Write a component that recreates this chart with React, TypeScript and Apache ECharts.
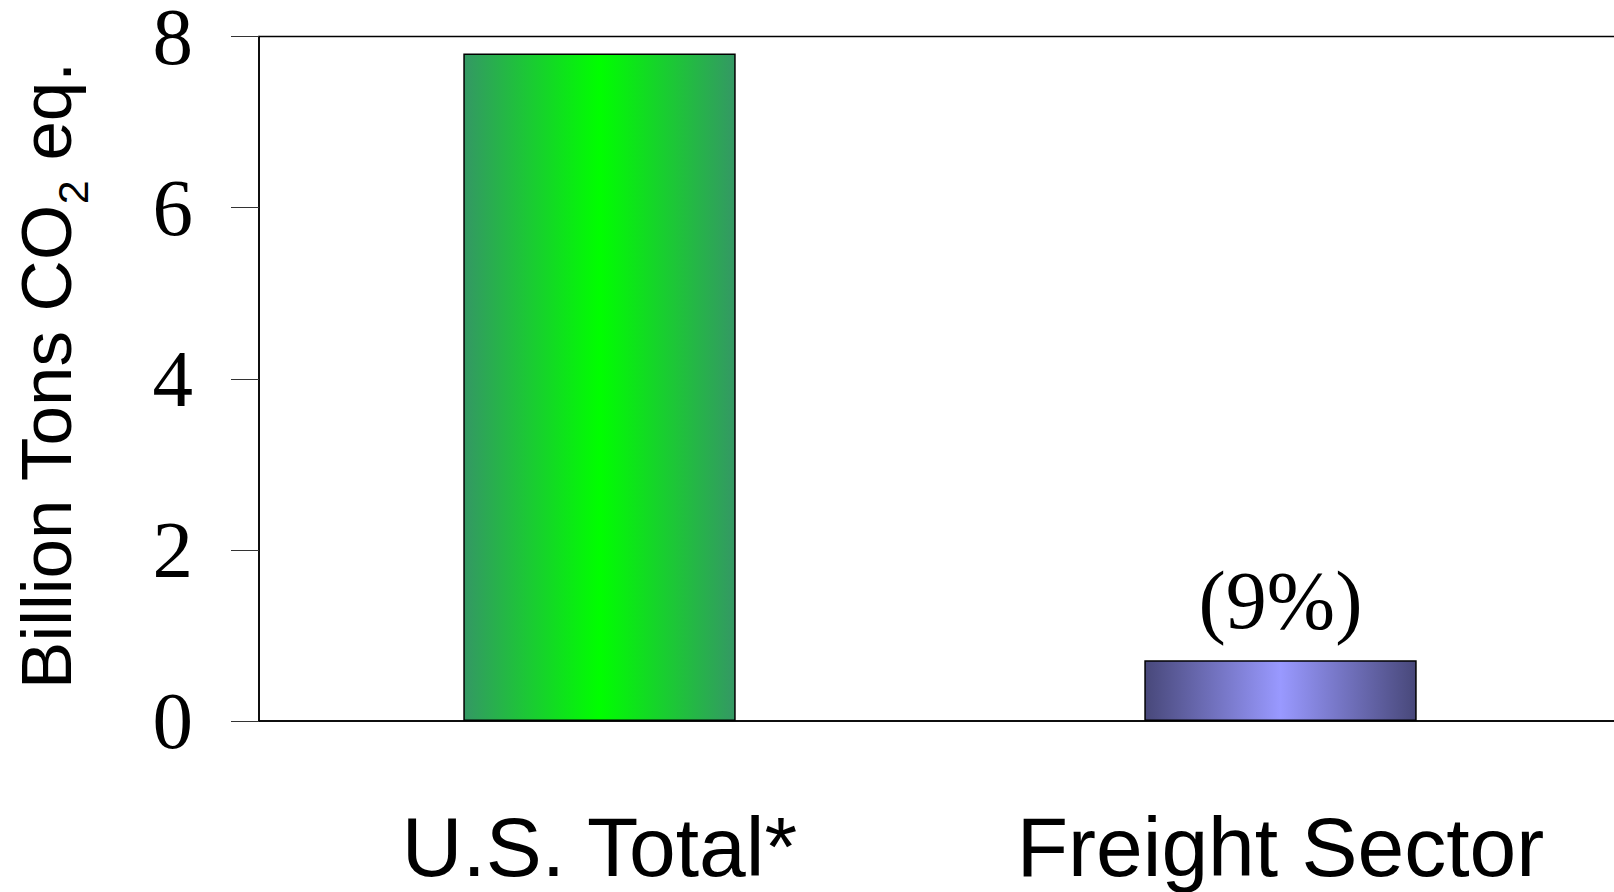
import React, { useEffect, useRef } from "react";
import * as echarts from "echarts";

const categories = ["U.S. Total*", "Freight Sector"];
const values = [7.8, 0.71];
const barLabels = ["", "(9%)"];
const barEdgeColors = ["#349864", "#48487a"];
const barCenterColors = ["#00ff00", "#9999ff"];
const yMin = 0;
const yMax = 8;
const yStep = 2;

export default function App() {
  const ref = useRef<HTMLDivElement>(null);
  useEffect(() => {
    if (!ref.current) return;
    const chart = echarts.init(ref.current, null, { renderer: "svg" });
    const data = values.map((v, i) => ({
      value: v,
      itemStyle: {
        color: new echarts.graphic.LinearGradient(0, 0, 1, 0, [
          { offset: 0, color: barEdgeColors[i] },
          { offset: 0.5, color: barCenterColors[i] },
          { offset: 1, color: barEdgeColors[i] },
        ]),
        borderColor: "#000",
        borderWidth: 1.5,
      },
      label: barLabels[i]
        ? {
            show: true,
            position: "top",
            distance: 19,
            formatter: barLabels[i],
            fontFamily: "Liberation Serif, Times New Roman, serif",
            fontSize: 82,
            lineHeight: 82,
            color: "#000",
          }
        : { show: false },
    }));
    chart.setOption({
      animation: false,
      backgroundColor: "#fff",
      grid: {
        left: 259,
        top: 36.5,
        bottom: 171,
        right: -7,
        outerBoundsMode: "none",
        containLabel: false,
        show: true,
        borderColor: "#000",
        borderWidth: 1.5,
        backgroundColor: "transparent",
      },
      xAxis: {
        type: "category",
        data: categories,
        axisLine: { show: true, lineStyle: { color: "#000", width: 1.5 } },
        axisTick: { show: false },
        axisLabel: {
          interval: 0,
          hideOverlap: false,
          margin: 84,
          fontFamily: "Liberation Sans, Arial, sans-serif",
          fontSize: 84,
          lineHeight: 84,
          color: "#000",
        },
      },
      yAxis: {
        type: "value",
        min: yMin,
        max: yMax,
        interval: yStep,
        name: "{a|Billion Tons CO}{s|2}{a| eq.}",
        nameLocation: "middle",
        nameGap: 165,
        nameTextStyle: {
          padding: [0, 0, 0, 6],
          rich: {
            a: {
              fontFamily: "Liberation Sans, Arial, sans-serif",
              fontSize: 71,
              lineHeight: 95,
              color: "#000",
            },
            s: {
              fontFamily: "Liberation Sans, Arial, sans-serif",
              fontSize: 43,
              verticalAlign: "bottom",
              color: "#000",
            },
          },
        },
        axisLine: { show: true, lineStyle: { color: "#000", width: 1.5 } },
        axisTick: {
          show: true,
          inside: false,
          length: 28,
          lineStyle: { color: "#333", width: 1 },
        },
        splitLine: { show: false },
        axisLabel: {
          margin: 66,
          fontFamily: "Liberation Serif, Times New Roman, serif",
          fontSize: 81,
          color: "#000",
          padding: [5, 0, 0, 0],
        },
      },
      series: [
        {
          type: "bar",
          data,
          barWidth: "40%",
        },
      ],
    });
    return () => chart.dispose();
  }, []);
  return (
    <div
      ref={ref}
      style={{ position: "absolute", left: 0, top: 0, width: 1614, height: 892 }}
    />
  );
}
